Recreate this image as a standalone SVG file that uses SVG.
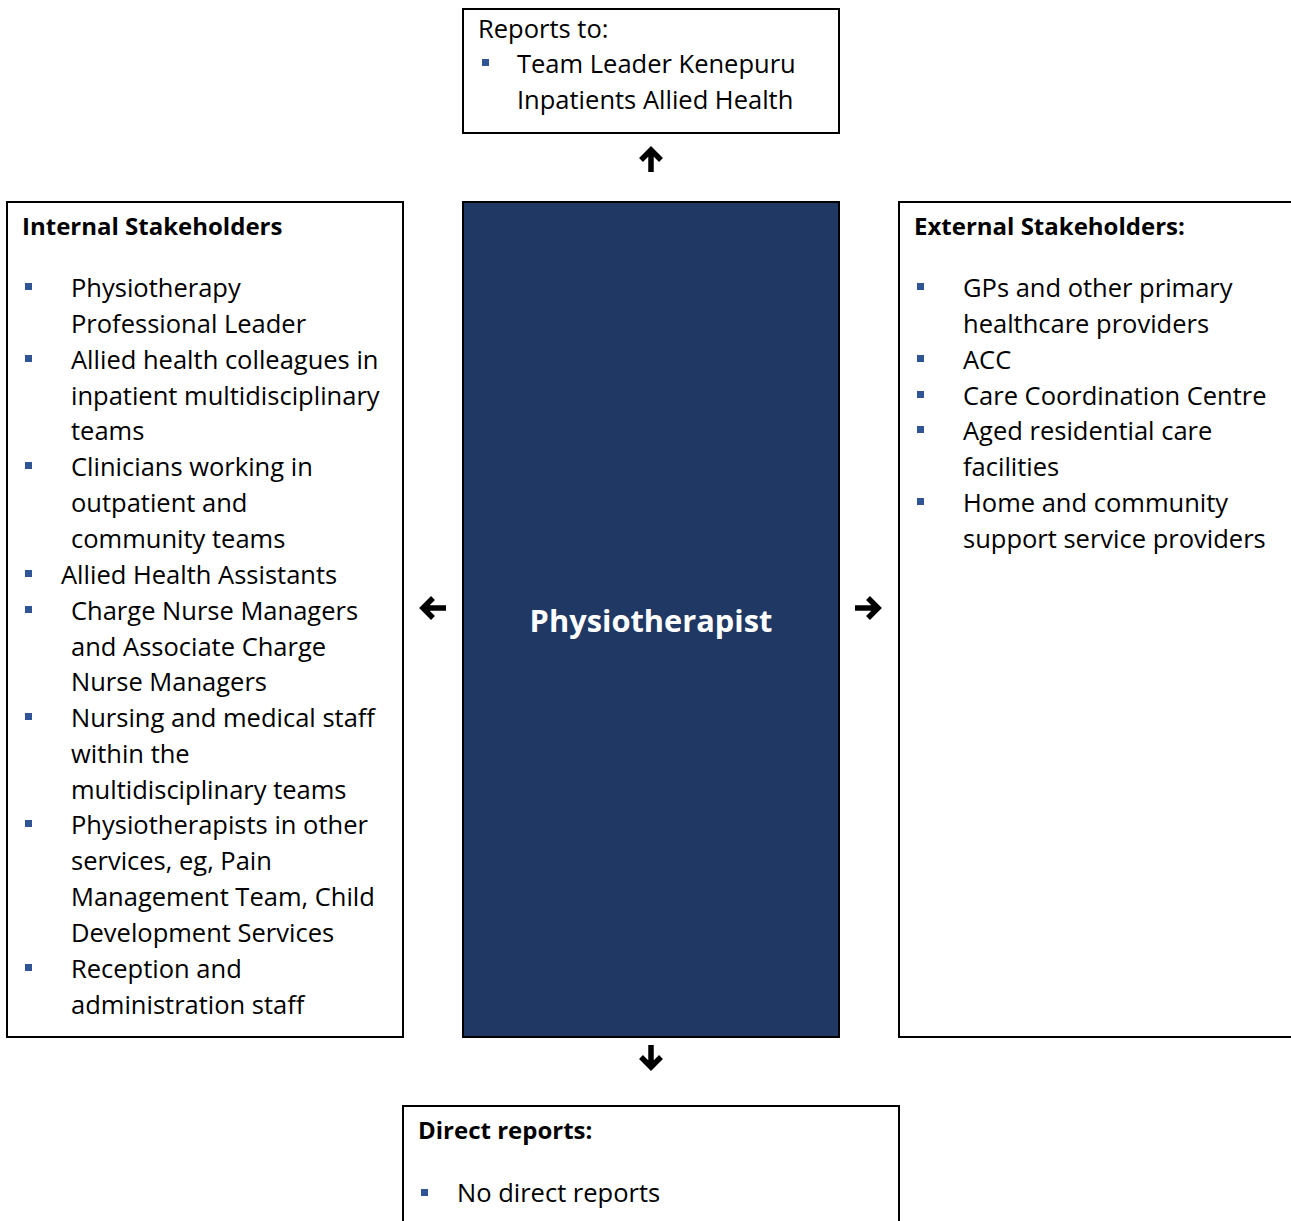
<svg xmlns="http://www.w3.org/2000/svg" width="1291" height="1221" viewBox="0 0 1291 1221">
  <defs>
    <style>
      .box { fill: #ffffff; stroke: #000000; stroke-width: 2; }
      .core { fill: #203864; stroke: #000000; stroke-width: 2; }
      .t { font-family: "Open Sans", "Liberation Sans", sans-serif; font-size: 25.5px; fill: #000000; }
      .h { font-family: "Open Sans", "Liberation Sans", sans-serif; font-size: 24px; font-weight: bold; fill: #000000; }
      .title { font-family: "Open Sans", "Liberation Sans", sans-serif; font-size: 30.8px; font-weight: bold; fill: #ffffff; }
      .b { fill: #2F5597; }
      .arr { fill: none; stroke: #000000; stroke-width: 5.5; stroke-linejoin: miter; stroke-linecap: butt; }
    </style>
  </defs>

  <rect width="1291" height="1221" fill="#ffffff"/>

  <!-- reporting line -->
  <g id="reports-to">
    <rect class="box" x="463" y="9" width="376" height="124"/>
    <text class="t" x="478" y="38">Reports to:</text>
    <rect class="b" x="482" y="59" width="7" height="7"/>
    <text class="t" x="517" y="73">Team Leader Kenepuru</text>
    <text class="t" x="517" y="109">Inpatients Allied Health</text>
  </g>

  <!-- internal stakeholders -->
  <g id="internal-stakeholders">
    <rect class="box" x="7" y="202" width="396" height="835"/>
    <text class="h" x="22" y="235">Internal Stakeholders</text>
    <rect class="b" x="25" y="283" width="7" height="7"/>
    <text class="t" x="71" y="297">Physiotherapy</text>
    <text class="t" x="71" y="333">Professional Leader</text>
    <rect class="b" x="25" y="355" width="7" height="7"/>
    <text class="t" x="71" y="369">Allied health colleagues in</text>
    <text class="t" x="71" y="405">inpatient multidisciplinary</text>
    <text class="t" x="71" y="440">teams</text>
    <rect class="b" x="25" y="462" width="7" height="7"/>
    <text class="t" x="71" y="476">Clinicians working in</text>
    <text class="t" x="71" y="512">outpatient and</text>
    <text class="t" x="71" y="548">community teams</text>
    <rect class="b" x="25" y="570" width="7" height="7"/>
    <text class="t" x="61" y="584">Allied Health Assistants</text>
    <rect class="b" x="25" y="606" width="7" height="7"/>
    <text class="t" x="71" y="620">Charge Nurse Managers</text>
    <text class="t" x="71" y="656">and Associate Charge</text>
    <text class="t" x="71" y="691">Nurse Managers</text>
    <rect class="b" x="25" y="713" width="7" height="7"/>
    <text class="t" x="71" y="727">Nursing and medical staff</text>
    <text class="t" x="71" y="763">within the</text>
    <text class="t" x="71" y="799">multidisciplinary teams</text>
    <rect class="b" x="25" y="820" width="7" height="7"/>
    <text class="t" x="71" y="834">Physiotherapists in other</text>
    <text class="t" x="71" y="870">services, eg, Pain</text>
    <text class="t" x="71" y="906">Management Team, Child</text>
    <text class="t" x="71" y="942">Development Services</text>
    <rect class="b" x="25" y="964" width="7" height="7"/>
    <text class="t" x="71" y="978">Reception and</text>
    <text class="t" x="71" y="1014">administration staff</text>
  </g>

  <!-- the role itself -->
  <g id="physiotherapist">
    <rect class="core" x="463" y="202" width="376" height="835"/>
    <text class="title" x="651" y="632" text-anchor="middle">Physiotherapist</text>
  </g>

  <!-- external stakeholders -->
  <g id="external-stakeholders">
    <rect class="box" x="899" y="202" width="450" height="835"/>
    <text class="h" x="914" y="235">External Stakeholders:</text>
    <rect class="b" x="917" y="283" width="7" height="7"/>
    <text class="t" x="963" y="297">GPs and other primary</text>
    <text class="t" x="963" y="333">healthcare providers</text>
    <rect class="b" x="917" y="355" width="7" height="7"/>
    <text class="t" x="963" y="369">ACC</text>
    <rect class="b" x="917" y="391" width="7" height="7"/>
    <text class="t" x="963" y="405">Care Coordination Centre</text>
    <rect class="b" x="917" y="426" width="7" height="7"/>
    <text class="t" x="963" y="440">Aged residential care</text>
    <text class="t" x="963" y="476">facilities</text>
    <rect class="b" x="917" y="498" width="7" height="7"/>
    <text class="t" x="963" y="512">Home and community</text>
    <text class="t" x="963" y="548">support service providers</text>
  </g>

  <!-- direct reports -->
  <g id="direct-reports">
    <rect class="box" x="403" y="1106" width="496" height="200"/>
    <text class="h" x="418" y="1139">Direct reports:</text>
    <rect class="b" x="421" y="1189" width="7" height="7"/>
    <text class="t" x="457" y="1202">No direct reports</text>
  </g>

  <!-- arrows -->
  <g id="connectors">
    <path class="arr" d="M651 172 V150 M641 160 L651 150 L661 160"/>
    <path class="arr" d="M446 608 H423 M433 598 L423 608 L433 618"/>
    <path class="arr" d="M855 608 H878 M868 598 L878 608 L868 618"/>
    <path class="arr" d="M651 1045 V1067 M641 1057 L651 1067 L661 1057"/>
  </g>
</svg>
